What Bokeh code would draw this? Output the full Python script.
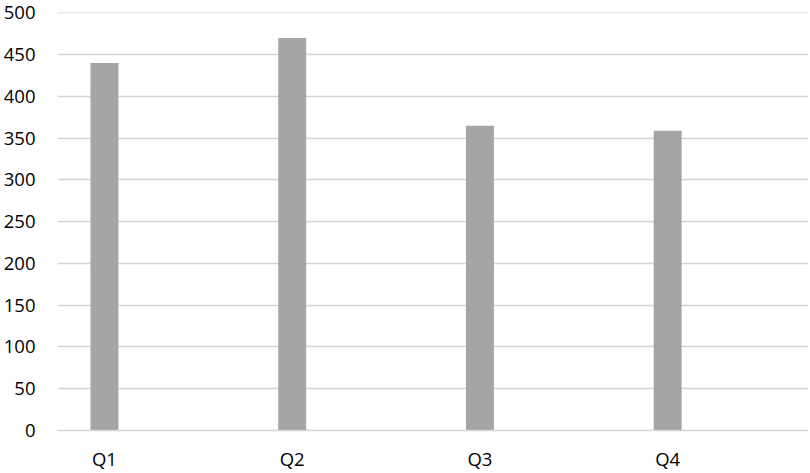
from bokeh.plotting import figure
from bokeh.models import Range1d, FixedTicker, ColumnDataSource
from bokeh.embed import file_html
from bokeh.resources import INLINE

quarters = ["Q1", "Q2", "Q3", "Q4"]
values = [440, 470, 365, 359]
y_ticks = [0, 50, 100, 150, 200, 250, 300, 350, 400, 450, 500]

idx = list(range(len(quarters)))
source = ColumnDataSource(dict(x=idx, top=values, q=quarters))

p = figure(width=810, height=473, output_backend="svg", toolbar_location=None,
           x_range=Range1d(-0.25, len(quarters) - 0.25), y_range=Range1d(0, 500.5),
           min_border_left=57, min_border_right=2, min_border_top=12, min_border_bottom=41)

p.vbar(x="x", top="top", width=0.149, source=source, fill_color="#a5a5a5", line_color=None)

p.outline_line_color = None
p.background_fill_color = "white"
p.border_fill_color = "white"

p.xgrid.grid_line_color = None
p.ygrid.grid_line_color = "#d4d4d4"
p.ygrid.grid_line_width = 1.7
p.ygrid.ticker = FixedTicker(ticks=y_ticks)

p.yaxis.ticker = FixedTicker(ticks=y_ticks)
p.yaxis.axis_line_color = None
p.yaxis.major_tick_line_color = None
p.yaxis.minor_tick_line_color = None
p.yaxis.major_tick_out = 0
p.yaxis.major_tick_in = 0
p.yaxis.minor_tick_out = 0
p.yaxis.major_label_standoff = 22
p.yaxis.major_label_text_font = "Open Sans"
p.yaxis.major_label_text_font_size = "18.5px"
p.yaxis.major_label_text_line_height = 1.0
p.yaxis.major_label_text_color = "#000000"

p.xaxis.ticker = FixedTicker(ticks=idx)
p.xaxis.major_label_overrides = {i: q for i, q in zip(idx, quarters)}
p.xaxis.axis_line_color = "#d4d4d4"
p.xaxis.axis_line_width = 1.7
p.xaxis.major_tick_line_color = None
p.xaxis.minor_tick_line_color = None
p.xaxis.major_tick_out = 0
p.xaxis.major_tick_in = 0
p.xaxis.minor_tick_out = 0
p.xaxis.major_label_standoff = 15
p.xaxis.major_label_text_font = "Open Sans"
p.xaxis.major_label_text_font_size = "18.5px"
p.xaxis.major_label_text_color = "#000000"

open("out.html", "w").write(file_html(p, INLINE))
